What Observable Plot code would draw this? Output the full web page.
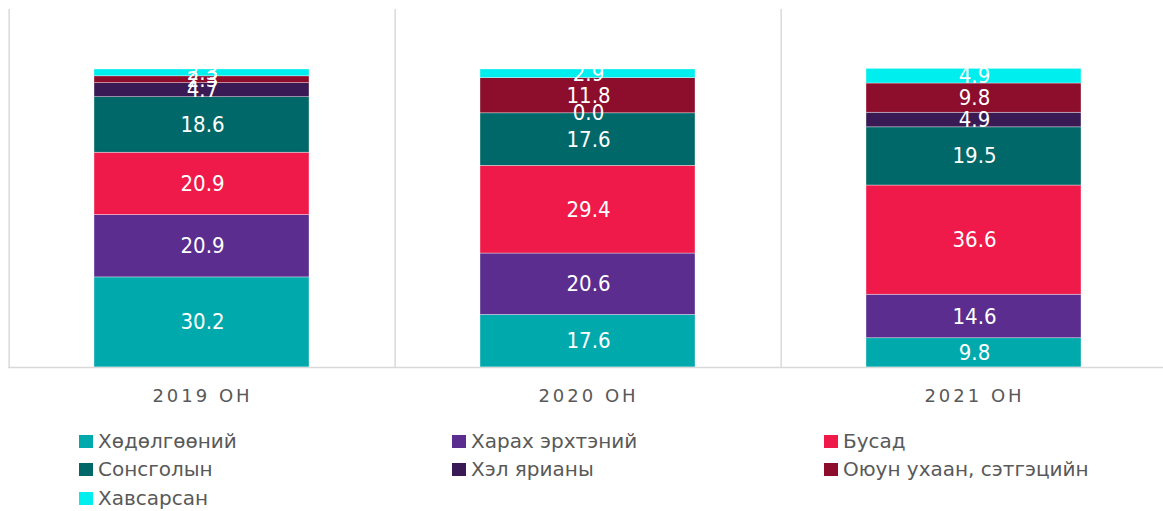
<!DOCTYPE html>
<html>
<head>
<meta charset="utf-8">
<script src="https://cdn.jsdelivr.net/npm/d3@7"></script>
<script src="https://cdn.jsdelivr.net/npm/@observablehq/plot@0.6"></script>
<style>
  body { margin: 0; background: #fff; }
  #wrap { position: relative; width: 1163px; height: 511px; overflow: hidden; }
  #chart svg g[aria-label="x-axis tick label"] text { letter-spacing: 3px; }
  .leg { position: absolute; display: flex; align-items: center; font-family: "DejaVu Sans", sans-serif; font-size: 20px; color: #595959; white-space: nowrap; }
  .sw { width: 14px; height: 13px; margin-right: 5px; }
</style>
</head>
<body>
<div id="wrap">
  <div id="chart"></div>
  <div id="legend"></div>
</div>
<script>
const years = ["2019 ОН", "2020 ОН", "2021 ОН"];
const categories = ["Хөдөлгөөний", "Харах эрхтэний", "Бусад", "Сонсголын", "Хэл ярианы", "Оюун ухаан, сэтгэцийн", "Хавсарсан"];
const colors = ["#00A9AC", "#5B2D8E", "#EF1A4A", "#006868", "#3A1A54", "#8C0D2C", "#00EEEE"];
const v2019 = [30.2, 20.9, 20.9, 18.6, 4.7, 2.3, 2.3];
const v2020 = [17.6, 20.6, 29.4, 17.6, 0.0, 11.8, 2.9];
const v2021 = [9.8, 14.6, 36.6, 19.5, 4.9, 9.8, 4.9];

const series = [v2019, v2020, v2021];
const data = [];
years.forEach((yr, i) => categories.forEach((c, j) => data.push({year: yr, cat: c, value: series[i][j]})));

const W = 1163, mL = 8, mR = -5;
const step = (W - mL - mR) / years.length;

const chart = Plot.plot({
  width: W,
  height: 420,
  marginLeft: mL,
  marginRight: mR,
  marginTop: 9,
  marginBottom: 53,
  style: { fontFamily: "DejaVu Sans, sans-serif", background: "transparent" },
  x: { domain: years, padding: 0, label: null, tickSize: 0, tickPadding: 22 },
  y: { domain: [0, 120], axis: null },
  color: { domain: categories, range: colors },
  marks: [
    Plot.ruleX(years, { x: d => d, dx: -step / 2, y1: 0, y2: 120, stroke: "#d9d9d9", strokeWidth: 1.5 }),
    Plot.barY(data, Plot.stackY({ x: "year", y: "value", fill: "cat", order: null, insetLeft: 85, insetRight: 86, stroke: "#ffffff", strokeWidth: 0.6, strokeOpacity: 0.6 })),
    Plot.text(data, Plot.stackY({ x: "year", y: "value", z: "cat", order: null, text: d => d.value.toFixed(1), fill: "white", fontSize: 22, fontFamily: "DejaVu Sans Condensed, DejaVu Sans, sans-serif" })),
    Plot.ruleY([0], { stroke: "#d9d9d9", strokeWidth: 1.5 }),
    Plot.axisX({ tickSize: 0, tickPadding: 22, fontSize: 18, fill: "#595959", label: null })
  ]
});
document.getElementById("chart").appendChild(chart);

// legend
const colX = [79, 452, 824];
const rowY = [434, 462, 491];
const legend = document.getElementById("legend");
categories.forEach((c, i) => {
  const el = document.createElement("div");
  el.className = "leg";
  el.style.left = colX[i % 3] + "px";
  el.style.top = (rowY[Math.floor(i / 3)] - 6) + "px";
  el.style.height = "26px";
  const sw = document.createElement("div");
  sw.className = "sw";
  sw.style.background = colors[i];
  const t = document.createElement("span");
  t.textContent = c;
  el.appendChild(sw); el.appendChild(t);
  legend.appendChild(el);
});
</script>
</body>
</html>
